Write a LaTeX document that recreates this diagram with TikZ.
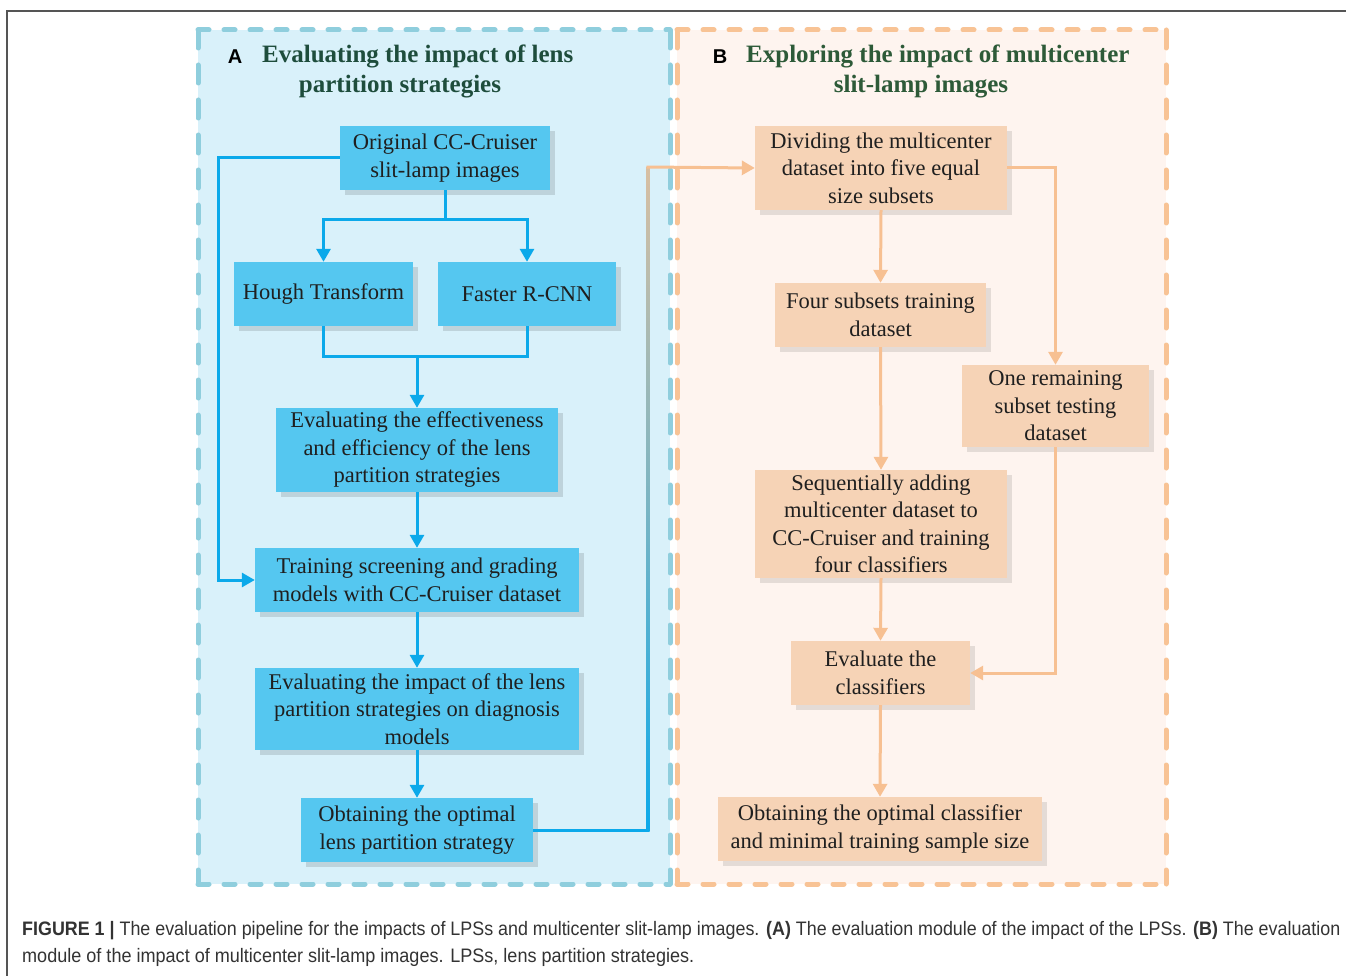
\documentclass[tikz,border=0pt]{standalone}
\usepackage{fontspec}
\setmainfont{Liberation Serif}
\newfontfamily\boxserif{Liberation Serif}
\newfontfamily\capsans{Liberation Sans}
\usetikzlibrary{arrows.meta,shadows}
\definecolor{framegray}{HTML}{555555}
\definecolor{panelAfill}{HTML}{D9F1FA}
\definecolor{panelAline}{HTML}{8FCEDD}
\definecolor{panelBfill}{HTML}{FEF4EF}
\definecolor{panelBline}{HTML}{F8C395}
\definecolor{bluebox}{HTML}{55C7F0}
\definecolor{bluearrow}{HTML}{0BA9EA}
\definecolor{orangebox}{HTML}{F6D3B6}
\definecolor{orangearrow}{HTML}{F7C092}
\definecolor{tanline}{HTML}{D8BFA2}
\definecolor{titlegreen}{HTML}{1E4D3C}
\definecolor{titlegreenB}{HTML}{2D5A38}
\definecolor{captext}{HTML}{333333}
\begin{document}
\begin{tikzpicture}[x=1pt,y=-1pt,
  boxtext/.style={font=\boxserif\fontsize{22.5}{27.5}\selectfont, text=black!88, align=center, inner sep=0pt},
  bbox/.style={boxtext, fill=bluebox, drop shadow={shadow xshift=5pt, shadow yshift=-5pt, fill=black, opacity=0.12}},
  obox/.style={boxtext, fill=orangebox, drop shadow={shadow xshift=5pt, shadow yshift=-5pt, fill=black, opacity=0.10}},
  barrow/.style={draw=bluearrow, line width=3pt, -{Triangle[length=13pt,width=14pt]}},
  bline/.style={draw=bluearrow, line width=3pt},
  oarrow/.style={draw=orangearrow, line width=3pt, -{Triangle[length=13pt,width=14pt]}},
  oline/.style={draw=orangearrow, line width=3pt},
  hdashA/.style={draw=panelAline, line width=5pt, line cap=round, dash pattern=on 11pt off 15pt},
  vdashA/.style={draw=panelAline, line width=5pt, line cap=round, dash pattern=on 18pt off 17pt},
  hdashB/.style={draw=panelBline, line width=5pt, line cap=round, dash pattern=on 11pt off 15pt},
  vdashB/.style={draw=panelBline, line width=5pt, line cap=round, dash pattern=on 18pt off 17pt},
  titleA/.style={font=\boxserif\fontsize{25}{31}\selectfont\bfseries, text=titlegreen, inner sep=0pt},
  titleB/.style={font=\boxserif\fontsize{25}{31}\selectfont\bfseries, text=titlegreenB, inner sep=0pt},
  letter/.style={font=\capsans\fontsize{20}{22}\selectfont\bfseries, text=black, inner sep=0pt},
  captxt/.style={font=\capsans\fontsize{19.5}{22}\selectfont, text=captext, inner sep=0pt, anchor=west}
]
\useasboundingbox (0,0) rectangle (1346,976);
\fill[white] (0,0) rectangle (1346,976);
% outer frame
\draw[framegray, line width=1.5pt] (7,976) -- (7,11) -- (1346,11);

% panels
\fill[panelAfill] (198,30) rectangle (670,884);
\fill[panelBfill] (677,30) rectangle (1166,884);
\draw[hdashA] (198,30) -- (670,30);
\draw[hdashA] (198,884) -- (670,884);
\draw[vdashA] (198,30) -- (198,884);
\draw[vdashA] (670,30) -- (670,884);
\draw[hdashB] (677,30) -- (1166,30);
\draw[hdashB] (677,884) -- (1166,884);
\draw[vdashB] (677,30) -- (677,884);
\draw[vdashB] (1166,30) -- (1166,884);

% titles
\node[letter] (la) at (235,57) {A};
\node[titleA, anchor=west] (ta1) at (262,56) {Evaluating the impact of lens};
\node[titleA] (ta2) at (400,87) {partition strategies};
\node[letter] (lb) at (720,57) {B};
\node[titleB, anchor=west] (tb1) at (746,56) {Exploring the impact of multicenter};
\node[titleB] (tb2) at (921,87) {slit-lamp images};

% blue boxes
\node[bbox, minimum width=210pt, minimum height=64pt] (orig) at (445,158) {Original CC-Cruiser\\slit-lamp images};
\node[bbox, minimum width=179pt, minimum height=64pt] (hough) at (323.5,294) {Hough Transform};
\node[bbox, minimum width=178pt, minimum height=64pt] (faster) at (527,294) {Faster R-CNN};
\node[bbox, minimum width=282pt, minimum height=84pt] (effect) at (417,450) {Evaluating the effectiveness\\and efficiency of the lens\\partition strategies};
\node[bbox, minimum width=324pt, minimum height=64pt] (train) at (417,580) {Training screening and grading\\models with CC-Cruiser dataset};
\node[bbox, minimum width=324pt, minimum height=82pt] (impact) at (417,709) {Evaluating the impact of the lens\\partition strategies on diagnosis\\models};
\node[bbox, minimum width=232pt, minimum height=64pt] (optimal) at (417,830) {Obtaining the optimal\\lens partition strategy};

% orange boxes
\node[obox, minimum width=252pt, minimum height=84pt] (divide) at (881,168) {Dividing the multicenter\\dataset into five equal\\size subsets};
\node[obox, minimum width=211pt, minimum height=64pt] (four) at (880.5,315) {Four subsets training\\dataset};
\node[obox, minimum width=187pt, minimum height=82pt] (one) at (1055.5,406) {One remaining\\subset testing\\dataset};
\node[obox, minimum width=252pt, minimum height=108pt] (seq) at (881,524) {Sequentially adding\\multicenter dataset to\\CC-Cruiser and training\\four classifiers};
\node[obox, minimum width=179pt, minimum height=64pt] (eval) at (880.5,673) {Evaluate the\\classifiers};
\node[obox, minimum width=324pt, minimum height=64pt] (final) at (880,829) {Obtaining the optimal classifier\\and minimal training sample size};

% blue connectors
\coordinate (fork) at (445,220);
\draw[bline] (orig.south) -- (fork);
\draw[barrow] (fork) -| (hough.north);
\draw[barrow] (fork) -| (faster.north);
\coordinate (merge) at (417,356);
\draw[bline] (hough.south) |- (merge);
\draw[bline] (faster.south) |- (merge);
\draw[barrow] (merge) -- (effect.north);
\draw[barrow] (effect.south) -- (train.north);
\coordinate (loop) at (218,158);
\draw[barrow] (orig.west) -- (loop) |- (train.west);
\draw[barrow] (train.south) -- (impact.north);
\draw[barrow] (impact.south) -- (optimal.north);

% cross-panel connector
\coordinate (c1) at (648,830);
\coordinate (c2) at (648,167);
\draw[bline] (optimal.east) -- (c1);
\shade[top color=tanline, bottom color=bluearrow, middle color=bluearrow!45!tanline] (646.5,167) rectangle (649.5,831.5);
\draw[oarrow] (646.5,167) -- (divide.west);

% orange connectors
\draw[oarrow] (divide.south) -- (four.north);
\draw[oarrow] (divide.east) -| (one.north);
\draw[oarrow] (four.south) -- (seq.north);
\draw[oarrow] (seq.south) -- (eval.north);
\draw[oarrow] (one.south) |- (eval.east);
\draw[oarrow] (eval.south) -- (final.north);

% caption
\node[captxt] (cap1) at (22,931) {\resizebox{1318pt}{\height}{\textbf{FIGURE 1 |} The evaluation pipeline for the impacts of LPSs and multicenter slit-lamp images. \textbf{(A)} The evaluation module of the impact of the LPSs. \textbf{(B)} The evaluation}};
\node[captxt] (cap2) at (22,957) {\resizebox{672pt}{\height}{module of the impact of multicenter slit-lamp images. LPSs, lens partition strategies.}};
\end{tikzpicture}
\end{document}
